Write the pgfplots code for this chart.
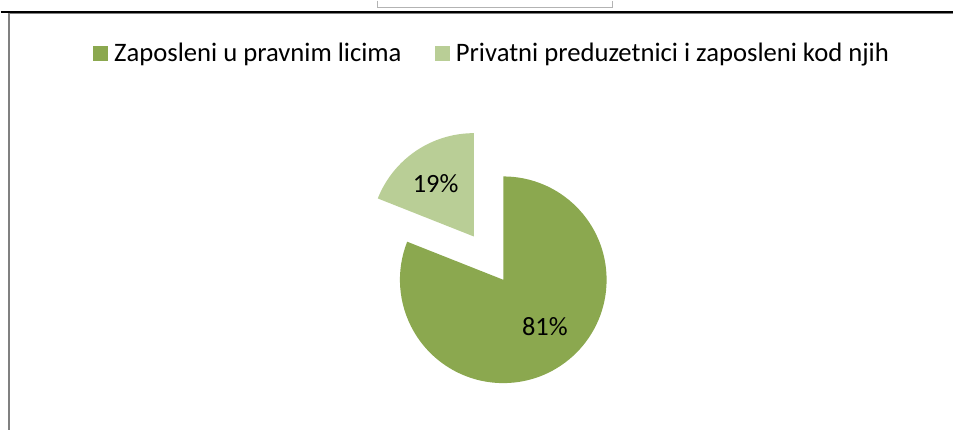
\documentclass[border=0pt]{standalone}
\usepackage{pgfplots}
\pgfplotsset{compat=1.18}
\usepackage{fontspec}
\setmainfont{Carlito}

\definecolor{darkgr}{HTML}{8BA84F}
\definecolor{lightgr}{HTML}{B9CE96}
\definecolor{framegr}{HTML}{808080}

% share of each group, in percent
\def\valA{81}
\def\valB{19}

\begin{document}
\begin{tikzpicture}
\begin{axis}[
    scale only axis,
    width=954bp, height=430bp,
    xmin=0, xmax=954, ymin=0, ymax=430,
    y dir=reverse,
    hide axis,
    clip=false,
    legend columns=2,
    legend image code/.code={\fill[#1] (0bp,-7bp) rectangle (14bp,7bp);},
    legend style={
        at={(axis cs:92,53)}, anchor=west,
        draw=none, fill=none, inner sep=0pt,
        font=\fontsize{26.8}{30}\selectfont,
        nodes={inner xsep=0pt, inner ysep=0pt},
        /tikz/every odd column/.append style={column sep=7bp},
        /tikz/every even column/.append style={column sep=33bp},
    },
]
\path (axis cs:0,0) rectangle (axis cs:954,430);

% page frame
\draw[framegr!60, line width=1bp] (axis cs:377.5,0) -- (axis cs:377.5,7.5)
    -- (axis cs:612.5,7.5) -- (axis cs:612.5,0);
\draw[black, line width=1.5bp] (axis cs:0,11.75) -- (axis cs:954,11.75);
\draw[framegr, line width=1.5bp] (axis cs:7,13.25) -- (axis cs:954,13.25);
\draw[framegr, line width=2bp] (axis cs:8,12.5) -- (axis cs:8,430);

\pgfmathsetmacro\angB{90+3.6*\valB}
\pgfmathsetmacro\midB{(90+\angB)/2}

% 81 % slice
\fill[darkgr] (axis cs:503.3,279.7) -- ++(90:103.5bp)
    arc[start angle=90, end angle=\angB-360, radius=103.5bp] -- cycle;
% 19 % slice, pulled out
\fill[lightgr] (axis cs:503.3,279.7) ++(\midB:52.4bp) -- ++(90:103.5bp)
    arc[start angle=90, end angle=\angB, radius=103.5bp] -- cycle;

\node[font=\fontsize{26.5}{30}\selectfont] at (axis cs:435.5,183) {\valB\%};
\node[font=\fontsize{26.5}{30}\selectfont] at (axis cs:545,327) {\valA\%};

\addlegendimage{darkgr}
\addlegendentry{Zaposleni u pravnim licima}
\addlegendimage{lightgr}
\addlegendentry{Privatni preduzetnici i zaposleni kod njih}
\end{axis}
\end{tikzpicture}
\end{document}
